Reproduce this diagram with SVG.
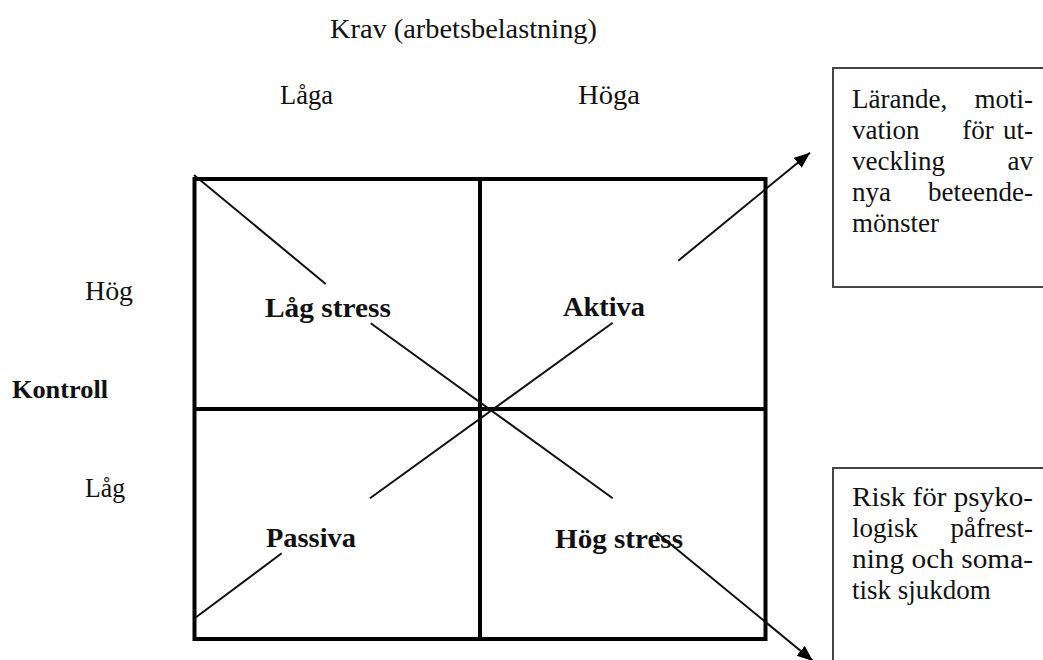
<svg xmlns="http://www.w3.org/2000/svg" width="1043" height="660" viewBox="0 0 1043 660">
  <style>
    .t { font-family: "Liberation Serif", "Times New Roman", serif; font-size: 27px; fill: #111; }
    .b { font-weight: bold; font-size: 28px; }
    .grid { fill: none; stroke: #000; stroke-width: 4; }
    .box { fill: #fff; stroke: #333; stroke-width: 1.8; }
    .diag { stroke: #111; stroke-width: 2; fill: none; }
  </style>
  <defs>
    <marker id="arr" markerUnits="userSpaceOnUse" markerWidth="18" markerHeight="14" refX="16" refY="6.5" orient="auto">
      <path d="M0,0 L16,6.5 L0,13 z" fill="#000"/>
    </marker>
  </defs>
  <rect width="1043" height="660" fill="#fff"/>

  <g id="axis-labels">
    <text class="t" x="330" y="38" textLength="267" lengthAdjust="spacingAndGlyphs">Krav (arbetsbelastning)</text>
    <text class="t" x="280" y="104" textLength="53" lengthAdjust="spacingAndGlyphs">Låga</text>
    <text class="t" x="578" y="104" textLength="62" lengthAdjust="spacingAndGlyphs">Höga</text>
    <text class="t" x="85" y="300" textLength="48" lengthAdjust="spacingAndGlyphs">Hög</text>
    <text class="t b" x="12" y="398" textLength="96" lengthAdjust="spacingAndGlyphs" style="font-size:26px">Kontroll</text>
    <text class="t" x="85" y="497" textLength="40" lengthAdjust="spacingAndGlyphs">Låg</text>
  </g>

  <g id="grid">
    <rect class="grid" x="194.5" y="179" width="571" height="460"/>
    <line class="grid" x1="480" y1="179" x2="480" y2="639"/>
    <line class="grid" x1="194.5" y1="409" x2="765.5" y2="409"/>
  </g>

  <g id="quadrant-low-stress">
    <text class="t b" x="265" y="317" textLength="126" lengthAdjust="spacingAndGlyphs">Låg stress</text>
  </g>
  <g id="quadrant-active">
    <text class="t b" x="563" y="316" textLength="82" lengthAdjust="spacingAndGlyphs">Aktiva</text>
  </g>
  <g id="quadrant-passive">
    <text class="t b" x="266" y="547" textLength="90" lengthAdjust="spacingAndGlyphs">Passiva</text>
  </g>
  <g id="quadrant-high-stress">
    <text class="t b" x="555" y="548" textLength="128" lengthAdjust="spacingAndGlyphs">Hög stress</text>
  </g>

  <g id="box-learning">
    <rect class="box" x="833" y="68" width="220" height="219"/>
    <text class="t" x="852" y="108">Lärande,</text>
    <text class="t" x="1033" y="108" text-anchor="end">moti-</text>
    <text class="t" x="852" y="139">vation</text>
    <text class="t" x="978" y="139" text-anchor="middle">för</text>
    <text class="t" x="1033" y="139" text-anchor="end">ut-</text>
    <text class="t" x="852" y="170">veckling</text>
    <text class="t" x="1033" y="170" text-anchor="end">av</text>
    <text class="t" x="852" y="201">nya</text>
    <text class="t" x="1033" y="201" text-anchor="end">beteende-</text>
    <text class="t" x="852" y="232">mönster</text>
  </g>

  <g id="box-risk">
    <rect class="box" x="833" y="468" width="220" height="200"/>
    <text class="t" x="852" y="506" textLength="181" lengthAdjust="spacingAndGlyphs">Risk för psyko-</text>
    <text class="t" x="852" y="537">logisk</text>
    <text class="t" x="1033" y="537" text-anchor="end">påfrest-</text>
    <text class="t" x="852" y="568" textLength="181" lengthAdjust="spacingAndGlyphs">ning och soma-</text>
    <text class="t" x="852" y="599">tisk sjukdom</text>
  </g>

  <g id="connectors">
    <line class="diag" x1="194" y1="175" x2="325.7" y2="284"/>
    <line class="diag" x1="370.7" y1="323.3" x2="612.7" y2="498.3"/>
    <line class="diag" x1="656.7" y1="532.7" x2="813" y2="661" marker-end="url(#arr)"/>
    <line class="diag" x1="196" y1="617.3" x2="281.7" y2="553.3"/>
    <line class="diag" x1="370" y1="498.3" x2="612.7" y2="322.7"/>
    <line class="diag" x1="678.3" y1="260.7" x2="810" y2="152.7" marker-end="url(#arr)"/>
  </g>
</svg>
